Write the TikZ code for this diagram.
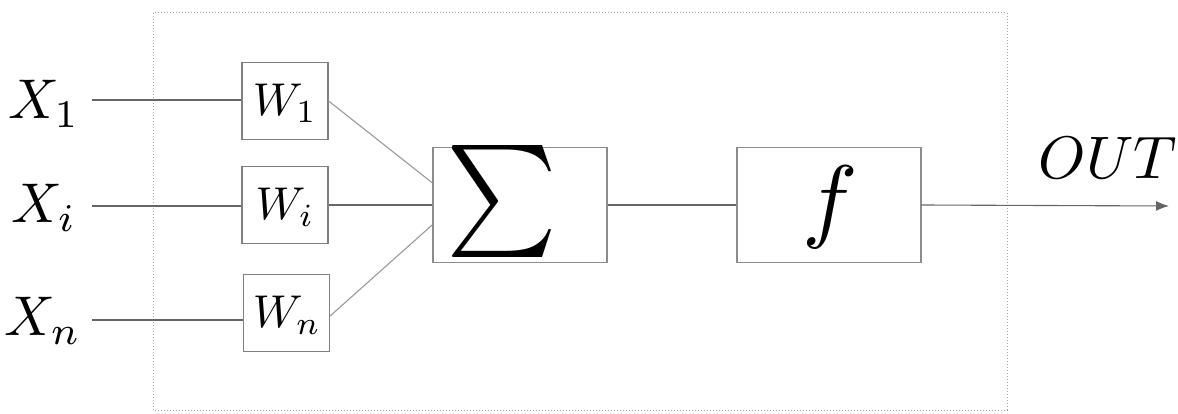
\documentclass[tikz,border=0pt]{standalone}
\usetikzlibrary{arrows.meta,calc}
\begin{document}
\begin{tikzpicture}[x=1pt,y=-1pt,
  wire/.style={draw=black!60,line width=1.1pt},
  diag/.style={draw=black!40,line width=1.1pt},
  wbox/.style={draw=black!50,line width=1.2pt,minimum width=86pt,minimum height=77pt,inner sep=0pt},
  bigbox/.style={draw=black!45,line width=1.2pt,minimum height=115pt,inner sep=0pt},
  frame/.style={draw=black!35,line width=1pt,dotted},
  lab/.style={inner sep=0pt},
]
\useasboundingbox (0,0) rectangle (1178,414);
\draw[frame] (153,13) rectangle (1007,410);

\node[wbox] (w1) at (285,101) {};
\node[wbox] (wi) at (285,205) {};
\node[wbox] (wn) at (286.5,313) {};
\node[lab] (w1l) at (285,103) {\scalebox{4.6}{$W_1$}};
\node[lab] (wil) at (285,207) {\scalebox{4.6}{$W_i$}};
\node[lab] (wnl) at (287,315) {\scalebox{4.6}{$W_n$}};

\node[bigbox,minimum width=174pt] (sum) at (520,205) {};
\node[lab] (sig) at (502,202) {\resizebox{111pt}{84pt}{$\sum$}};
\node[bigbox,minimum width=184pt] (f) at (829,205) {};
\node[lab] (fl) at (830,207) {\scalebox{9.3}{$f$}};

\node[lab] (x1) at (44,104) {\scalebox{5.6}{$X_1$}};
\node[lab] (xi) at (44,208) {\scalebox{5.6}{$X_i$}};
\node[lab] (xn) at (43,321) {\scalebox{5.6}{$X_n$}};

\coordinate (in1) at (92,100);
\coordinate (in2) at (92,206);
\coordinate (in3) at (92,320);
\draw[wire] (in1) -- (in1 -| w1.west);
\draw[wire] (in2) -- (in2 -| wi.west);
\draw[wire] (in3) -- (in3 -| wn.west);

\draw[diag] (w1.east) -- ($(sum.west)!0.38!(sum.north west)$);
\draw[wire] (wi.east) -- (wi.east -| sum.west);
\draw[diag] ([yshift=-3pt]wn.east) -- ($(sum.west)!0.34!(sum.south west)$);

\draw[wire] (sum.east) -- (f.west);
\coordinate (out) at (1169,206);
\draw[wire,-{Latex[length=13pt,width=10pt]}] (f.east) -- (out);
\node[lab] (outl) at (1108,158) {\scalebox{6}{$OUT$}};
\end{tikzpicture}
\end{document}
